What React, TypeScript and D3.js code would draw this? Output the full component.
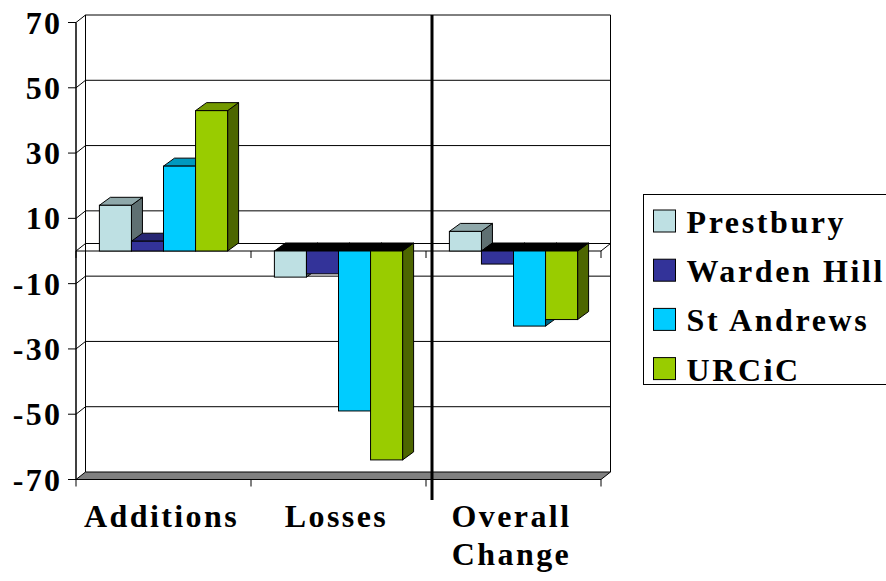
import React, { useEffect, useRef } from 'react';
import * as d3 from 'd3';

const categories = ['Additions', 'Losses', 'Overall Change'];
const seriesNames = ['Prestbury', 'Warden Hill', 'St Andrews', 'URCiC'];
const prestbury = [14, -8, 6];
const wardenHill = [3, -7, -4];
const stAndrews = [26, -49, -23];
const urcic = [43, -64, -21];
const yTicks = [70, 50, 30, 10, -10, -30, -50, -70];
const seriesColors = ['#BEE0E3', '#333399', '#00CCFF', '#99CC00'];

const seriesValues = [prestbury, wardenHill, stAndrews, urcic];

function shade(c: string, k: number) {
  const r = d3.rgb(c);
  return d3.rgb(r.r * k, r.g * k, r.b * k).formatHex();
}

export default function App() {
  const svgRef = useRef<SVGSVGElement>(null);

  useEffect(() => {
    if (!svgRef.current) return;
    const svg = d3.select(svgRef.current);
    svg.selectAll('*').remove();

    const font = 'Liberation Serif, Times New Roman, Times, serif';
    const left = 76, right = 601;
    // depth offsets for the wall and for the bars
    const wdx = 9.5, wdy = -7.5;
    const bdx = 11, bdy = -8;

    const x0 = d3.scaleBand<string>().domain(categories).range([left, right]).padding(0);
    const x1 = d3.scaleBand<string>()
      .domain(seriesNames)
      .range([0, x0.bandwidth()])
      .paddingInner(0)
      .paddingOuter(0.73);
    const y = d3.scaleLinear().domain([-70, 70]).range([479.5, 22.5]);

    const yMin = -70, yMax = 70;
    const g = svg.append('g');

    // back wall gridlines
    yTicks.concat([0]).forEach(t => {
      if (t === yMin) return;
      g.append('line')
        .attr('x1', left + wdx).attr('x2', right + wdx)
        .attr('y1', y(t) + wdy).attr('y2', y(t) + wdy)
        .style('stroke', '#000').style('stroke-width', 1);
      // side wall diagonal
      g.append('line')
        .attr('x1', left).attr('x2', left + wdx)
        .attr('y1', y(t)).attr('y2', y(t) + wdy)
        .style('stroke', '#000').style('stroke-width', 1);
    });

    // wall edges
    g.append('line')
      .attr('x1', left + wdx).attr('x2', left + wdx)
      .attr('y1', y(yMax) + wdy).attr('y2', y(yMin) + wdy)
      .style('stroke', '#000');
    g.append('line')
      .attr('x1', right + wdx).attr('x2', right + wdx)
      .attr('y1', y(yMax) + wdy).attr('y2', y(yMin) + wdy)
      .style('stroke', '#000');

    // floor slab at the bottom
    g.append('polygon')
      .attr('points', [
        [left, y(yMin)], [right, y(yMin)],
        [right + wdx, y(yMin) + wdy], [left + wdx, y(yMin) + wdy]
      ].map(p => p.join(',')).join(' '))
      .style('fill', '#808080')
      .style('stroke', '#000')
      .style('stroke-width', 1);

    // zero plane outline
    g.append('line')
      .attr('x1', left).attr('x2', right)
      .attr('y1', y(0)).attr('y2', y(0))
      .style('stroke', '#000');
    g.append('line')
      .attr('x1', right).attr('x2', right + wdx)
      .attr('y1', y(0)).attr('y2', y(0) + wdy)
      .style('stroke', '#000');

    // category ticks at zero and at bottom
    const bounds = categories.map(c => x0(c)!).concat([right]);
    bounds.forEach(bx => {
      g.append('line')
        .attr('x1', bx).attr('x2', bx)
        .attr('y1', y(0)).attr('y2', y(0) + 7)
        .style('stroke', '#000');
      g.append('line')
        .attr('x1', bx).attr('x2', bx)
        .attr('y1', y(yMin)).attr('y2', y(yMin) + 7)
        .style('stroke', '#000');
    });

    // y axis
    g.append('line')
      .attr('x1', left).attr('x2', left)
      .attr('y1', y(yMax)).attr('y2', y(yMin))
      .style('stroke', '#000').style('stroke-width', 1.5);
    yTicks.forEach(t => {
      g.append('line')
        .attr('x1', left - 8).attr('x2', left)
        .attr('y1', y(t)).attr('y2', y(t))
        .style('stroke', '#000');
      g.append('text')
        .attr('x', 62.5)
        .attr('y', y(t) + 11)
        .attr('text-anchor', 'end')
        .attr('font-family', font)
        .attr('font-size', 32)
        .attr('font-weight', 'bold')
        .attr('letter-spacing', 2.4)
        .text(String(t));
    });

    // bars
    categories.forEach((cat, ci) => {
      seriesNames.forEach((s, si) => {
        const v = seriesValues[si][ci];
        const color = seriesColors[si];
        const bx = x0(cat)! + x1(s)!;
        const bw = x1.bandwidth();
        const yt = y(Math.max(0, v));
        const yb = y(Math.min(0, v));
        const bar = g.append('g');
        // side face
        bar.append('polygon')
          .attr('points', [
            [bx + bw, yt], [bx + bw + bdx, yt + bdy],
            [bx + bw + bdx, yb + bdy], [bx + bw, yb]
          ].map(p => p.join(',')).join(' '))
          .style('fill', shade(color, 0.5))
          .style('stroke', '#000').style('stroke-width', 1);
        // top face
        bar.append('polygon')
          .attr('points', [
            [bx, yt], [bx + bdx, yt + bdy],
            [bx + bw + bdx, yt + bdy], [bx + bw, yt]
          ].map(p => p.join(',')).join(' '))
          .style('fill', v >= 0 ? shade(color, 0.75) : '#000')
          .style('stroke', '#000').style('stroke-width', 1);
        // front face
        bar.append('rect')
          .attr('x', bx).attr('y', yt)
          .attr('width', bw).attr('height', yb - yt)
          .style('fill', color)
          .style('stroke', '#000').style('stroke-width', 1);
      });
    });

    // category labels
    categories.forEach(cat => {
      const cx = x0(cat)! + x0.bandwidth() / 2 - 2;
      const words = cat === 'Overall Change' ? ['Overall', 'Change'] : [cat];
      words.forEach((w, i) => {
        g.append('text')
          .attr('x', cx)
          .attr('y', 527 + i * 38)
          .attr('text-anchor', 'middle')
          .attr('font-family', font)
          .attr('font-size', 32)
          .attr('font-weight', 'bold')
          .attr('letter-spacing', 2.4)
          .text(w);
      });
    });

    // separator line between Losses and Overall Change
    g.append('line')
      .attr('x1', 432).attr('x2', 432)
      .attr('y1', y(yMax) + wdy).attr('y2', 500)
      .style('stroke', '#000').style('stroke-width', 3);

    // legend
    const legend = svg.append('g').attr('transform', 'translate(643.5,194.5)');
    legend.append('rect')
      .attr('x', 0).attr('y', 0)
      .attr('width', 250).attr('height', 190)
      .style('fill', '#fff')
      .style('stroke', '#000').style('stroke-width', 1);
    seriesNames.forEach((s, i) => {
      const item = legend.append('g').attr('transform', `translate(10,${15.5 + i * 49.2})`);
      item.append('rect')
        .attr('width', 22).attr('height', 22)
        .style('fill', seriesColors[i])
        .style('stroke', '#000').style('stroke-width', 1);
      item.append('text')
        .attr('x', 33).attr('y', 23)
        .attr('font-family', font)
        .attr('font-size', 32)
        .attr('font-weight', 'bold')
        .attr('letter-spacing', 2.6)
        .text(s);
    });
  }, []);

  return (
    <svg
      ref={svgRef}
      width={886}
      height={581}
      style={{ position: 'absolute', left: 0, top: 0, background: '#fff' }}
    />
  );
}
